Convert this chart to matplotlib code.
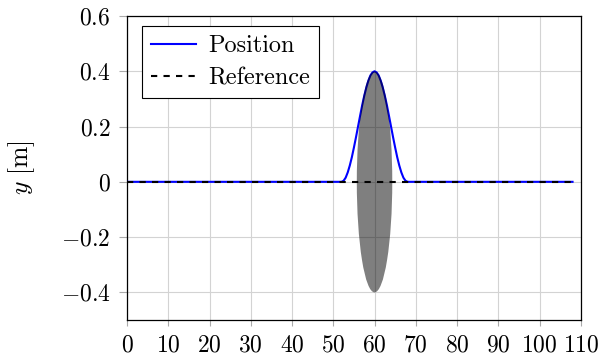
import matplotlib
matplotlib.use("Agg")
from matplotlib import pyplot as plt
from matplotlib.patches import Ellipse

# position trace (flat, bump around x=60, flat)
pos_x = [0, 52, 52.5, 53, 53.5, 54, 54.5, 55, 55.5, 56, 56.5, 57, 57.5, 58, 58.5,
         59, 59.5, 60, 60.5, 61, 61.5, 62, 62.5, 63, 63.5, 64, 64.5, 65, 65.5,
         66, 66.5, 67, 67.5, 68, 108]
pos_y = [0, 0, 0.004, 0.015, 0.034, 0.059, 0.089, 0.124, 0.161, 0.2, 0.239,
         0.277, 0.311, 0.341, 0.366, 0.385, 0.396, 0.4, 0.396, 0.385, 0.366,
         0.341, 0.311, 0.277, 0.239, 0.2, 0.161, 0.124, 0.089, 0.059, 0.034,
         0.015, 0.004, 0, 0]

ref_x = [0, 108]
ref_y = [0, 0]

# obstacle (grey ellipse)
obs_x, obs_y = 60, 0
obs_w, obs_h = 8.6, 0.8

xticks = list(range(0, 111, 10))
yticks = [-0.4, -0.2, 0, 0.2, 0.4, 0.6]
ytick_labels = [r'$-0.4$', r'$-0.2$', r'$0$', r'$0.2$', r'$0.4$', r'$0.6$']

plt.rcParams['mathtext.fontset'] = 'cm'
plt.rcParams['font.family'] = ['cmr10', 'DejaVu Serif']

fig = plt.figure(figsize=(6, 3.58), dpi=100)
ax = fig.add_axes([0.2117, 0.1061, 0.7563, 0.8492])

ax.plot(pos_x, pos_y, color='#0000ff', lw=1.5, label='Position', zorder=3)
ax.plot(ref_x, ref_y, color='black', lw=1.5, ls=(0, (3, 3)), label='Reference', zorder=4)
ax.add_patch(Ellipse((obs_x, obs_y), obs_w, obs_h, facecolor='black', alpha=0.5,
                     edgecolor='none', zorder=5))

ax.set_xlim(0, 110)
ax.set_ylim(-0.5, 0.6)
ax.set_xticks(xticks)
ax.set_xticklabels([r'$%d$' % t for t in xticks])
ax.set_yticks(yticks)
ax.set_yticklabels(ytick_labels)
ax.tick_params(labelsize=17, direction='out', color='#aaaaaa', width=0.8)
ax.tick_params(axis='x', length=4.5, pad=5.5)
ax.tick_params(axis='y', length=6, pad=6)
ax.grid(True, color='#d3d3d3', lw=0.8)
ax.set_axisbelow(True)
for s in ax.spines.values():
    s.set_linewidth(0.9)

ax.set_ylabel(r'$y\ [\mathrm{m}]$', fontsize=18.5)
ax.yaxis.set_label_coords(-0.198, 0.5)

leg = ax.legend(loc='upper left', bbox_to_anchor=(0.0324, 0.967), borderaxespad=0,
                fontsize=17.5, fancybox=False, framealpha=1, edgecolor='black',
                handlelength=1.85, handletextpad=0.5, borderpad=0.38,
                labelspacing=0.4)
leg.get_frame().set_linewidth(0.8)

fig.savefig('out.png', dpi=100)
